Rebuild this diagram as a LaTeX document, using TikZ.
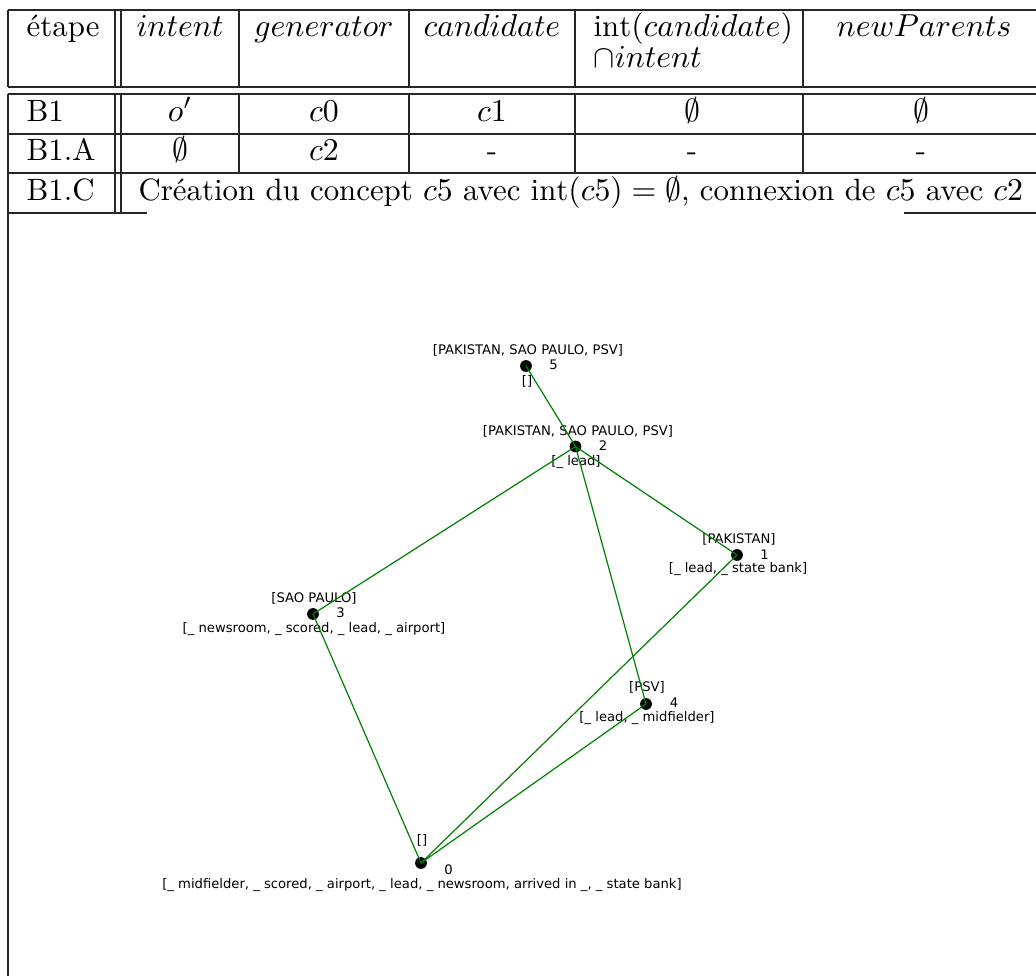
\documentclass[tikz,border=0pt]{standalone}
\usepackage{fontspec}
\newfontfamily\plotfont{DejaVu Sans}
\begin{document}
\begin{tikzpicture}[x=0.3145pt,y=-0.3145pt,
  rule/.style={line width=0.4pt,black!85},
  cell/.style={inner sep=0pt,anchor=base,font=\fontsize{9.7pt}{11.6pt}\selectfont},
  cellL/.style={cell,anchor=base west},
  dot/.style={circle,fill=black,inner sep=0pt,minimum size=3.7pt},
  plab/.style={inner sep=0pt,font=\plotfont\fontsize{4.14pt}{5pt}\selectfont},
  edge/.style={draw=green!50!black,line width=0.38pt}]
\useasboundingbox (0,0) rectangle (1036,976);

% ---- table rules ----
\foreach \y in {10,87,94,134,173} \draw[rule] (8,\y) -- (1036,\y);
\draw[rule] (8,213) -- (147,213);
\draw[rule] (904,213) -- (1036,213);
\foreach \x in {8,115,121,239,409,575,803} {
  \draw[rule] (\x,10) -- (\x,87);
  \draw[rule] (\x,94) -- (\x,173);
}
\foreach \x in {115,121} \draw[rule] (\x,173) -- (\x,213);
\draw[rule] (8,173) -- (8,976);

% ---- header ----
\node[cellL] (hStep) at (26,37) {étape};
\node[cell] (hIntent) at (180,37) {$intent$};
\node[cell] (hGen) at (324,37) {$generator$};
\node[cell] (hCand) at (492,37) {$candidate$};
\node[cellL] (hInt) at (593,37) {$\mathrm{int}(candidate)$};
\node[cellL] (hIntB) at (593,68) {$\cap intent$};
\node[cell] (hNew) at (924,37) {$newParents$};

% ---- row B1 ----
\node[cellL] (rA) at (26,121.5) {B1};
\node[cell] (rA1) at (180,121.5) {$o'$};
\node[cell] (rA2) at (324,121.5) {$c0$};
\node[cell] (rA3) at (492,121.5) {$c1$};
\node[cell] (rA4) at (692,121.5) {$\emptyset$};
\node[cell] (rA5) at (921,121.5) {$\emptyset$};

% ---- row B1.A ----
\node[cellL] (rB) at (26,161) {B1.A};
\node[cell] (rB1) at (180,161) {$\emptyset$};
\node[cell] (rB2) at (324,161) {$c2$};
\node[cell] (rB3) at (492,161) {-};
\node[cell] (rB4) at (692,161) {-};
\node[cell] (rB5) at (921,161) {-};

% ---- row B1.C ----
\node[cellL] (rC) at (26,201) {B1.C};
\node[cellL] (rC1) at (138,201) {Création du concept $c5$ avec $\mathrm{int}(c5) = \emptyset$, connexion de $c5$ avec $c2$};

% ---- lattice: labels ----
\node[plab] (l5a) at (528,350.5) {[PAKISTAN, SAO PAULO, PSV]};
\node[plab] (l5n) at (553.5,365) {5};
\node[plab] (l5b) at (527,381) {[]};

\node[plab] (l2a) at (578,431) {[PAKISTAN, SAO PAULO, PSV]};
\node[plab] (l2n) at (603,446) {2};
\node[plab] (l2b) at (576,462) {[\_ lead]};

\node[plab] (l1a) at (739,539.5) {[PAKISTAN]};
\node[plab] (l1n) at (764.5,554.5) {1};
\node[plab] (l1b) at (738,569.5) {[\_ lead, \_ state bank]};

\node[plab] (l3a) at (314,598) {[SAO PAULO]};
\node[plab] (l3n) at (340.5,613) {3};
\node[plab] (l3b) at (314,629) {[\_ newsroom, \_ scored, \_ lead, \_ airport]};

\node[plab] (l4a) at (647,687.5) {[PSV]};
\node[plab] (l4n) at (674,703) {4};
\node[plab] (l4b) at (647,718) {[\_ lead, \_ midfielder]};

\node[plab] (l0a) at (422,840) {[]};
\node[plab] (l0n) at (448.5,870) {0};
\node[plab] (l0b) at (422,885.5) {[\_ midfielder, \_ scored, \_ airport, \_ lead, \_ newsroom, arrived in \_, \_ state bank]};

% ---- lattice: concepts ----
\node[dot] (c0) at (421,863) {};
\node[dot] (c1) at (737,555) {};
\node[dot] (c2) at (575.5,446.5) {};
\node[dot] (c3) at (313,614) {};
\node[dot] (c4) at (646,704) {};
\node[dot] (c5) at (526,366) {};

% ---- lattice: edges ----
\draw[edge] (c5.center) -- (c2.center);
\draw[edge] (c2.center) -- (c3.center);
\draw[edge] (c2.center) -- (c1.center);
\draw[edge] (c2.center) -- (c4.center);
\draw[edge] (c3.center) -- (c0.center);
\draw[edge] (c1.center) -- (c0.center);
\draw[edge] (c4.center) -- (c0.center);
\end{tikzpicture}
\end{document}
